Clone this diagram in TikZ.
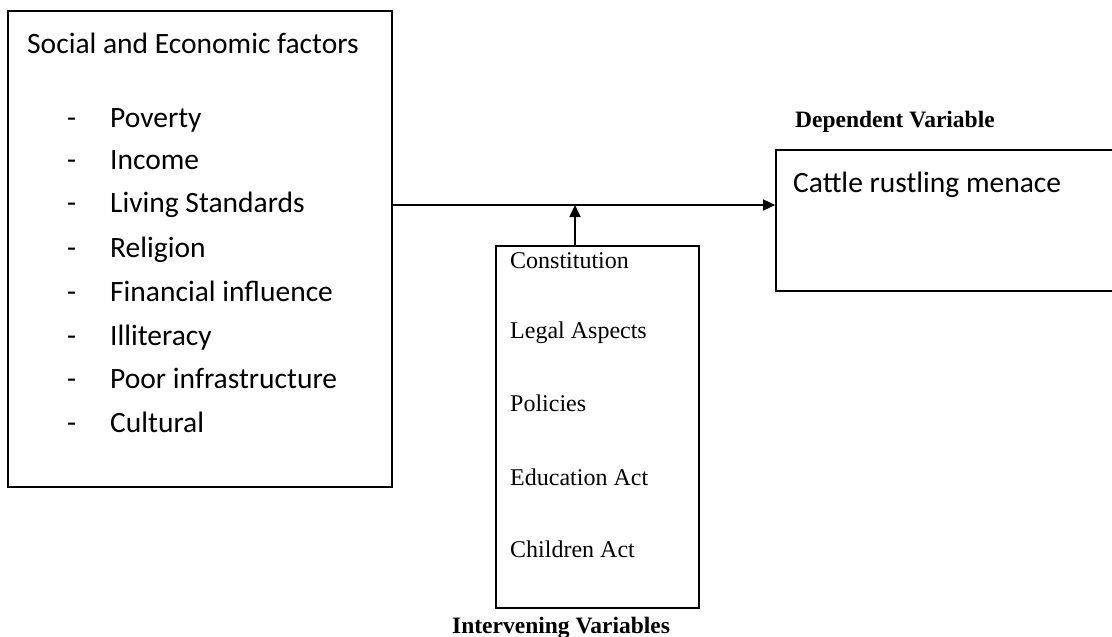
\documentclass[tikz,border=0pt]{standalone}
\usepackage{fontspec}
\setmainfont{Liberation Serif}
\newfontfamily\calib{Carlito}
\usetikzlibrary{arrows.meta}
\begin{document}
\begin{tikzpicture}[x=1pt,y=-1pt,
  box/.style={draw=black,line width=1.7pt,inner sep=0pt,rectangle},
  sanstxt/.style={anchor=base west,inner sep=0pt,font=\calib\fontsize{29.5}{32}\selectfont},
  sertxt/.style={anchor=base west,inner sep=0pt,font=\fontsize{24}{26}\selectfont},
  lbl/.style={anchor=base west,inner sep=0pt,font=\bfseries\fontsize{23.5}{26}\selectfont},
  conn/.style={line width=1.7pt},
  arr/.style={conn,-{Triangle[length=12pt,width=11pt]}}]
\useasboundingbox (0,0) rectangle (1112,637);
% boxes
\node[box,minimum width=384,minimum height=476] (sef) at (200,249) {};
\node[box,minimum width=340,minimum height=141] (dep) at (946,220.5) {};
\node[box,minimum width=203,minimum height=362] (iv) at (597.5,427) {};
% left box texts
\node[sanstxt] (t0) at (27,53) {Social and Economic factors};
\foreach \i/\y/\t in {1/127/Poverty,2/169/Income,3/212/Living Standards,4/257/Religion,5/301/Financial influence,6/345/Illiteracy,7/388/Poor infrastructure,8/432/Cultural}{
  \node[sanstxt] (d\i) at (67,\y) {-};
  \node[sanstxt] (s\i) at (110,\y) {\t};
}
% dependent
\node[lbl] (deplbl) at (795,127) {Dependent Variable};
\node[sanstxt] (cat) at (793,192) {Cattle rustling menace};
% intervening
\foreach \i/\y/\t in {1/268/Constitution,2/338/Legal Aspects,3/411/Policies,4/485/Education Act,5/557/Children Act}{
  \node[sertxt] (v\i) at (510,\y) {\t};
}
\node[lbl] (ivlbl) at (452,633) {Intervening Variables};
% connectors
\coordinate (j) at (575,205);
\draw[arr] (sef.east |- j) -- (dep.west |- j);
\draw[arr] (iv.north -| j) -- (j);
\end{tikzpicture}
\end{document}
